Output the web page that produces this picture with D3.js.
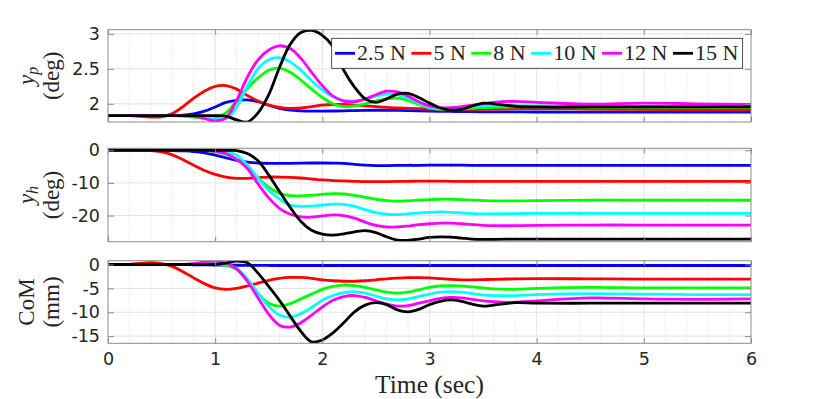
<!DOCTYPE html>
<html>
<head>
<meta charset="utf-8">
<script src="https://cdn.jsdelivr.net/npm/d3@7"></script>
<style>
  body { margin: 0; background: #fff; }
  text { fill: #262626; }
</style>
</head>
<body>
<script>
// sample times (sec)
const time = [0, 0.2, 0.4, 0.5, 0.6, 0.7, 0.8, 0.9, 1.0, 1.1, 1.2, 1.3, 1.4, 1.5, 1.6, 1.7, 1.8, 1.9, 2.0, 2.1,
    2.2, 2.3, 2.4, 2.5, 2.6, 2.7, 2.8, 2.9, 3.0, 3.1, 3.2, 3.3, 3.4, 3.5, 3.6, 3.8, 4.0, 4.5, 5.0, 5.5, 6.0];

const forceLabels = ["2.5 N", "5 N", "8 N", "10 N", "12 N", "15 N"];
const lineColors = ["#0000ff", "#ff0000", "#00ff00", "#00ffff", "#ff00ff", "#000000"];

const xTicks = [0, 1, 2, 3, 4, 5, 6];
const ypTicks = [2, 2.5, 3];
const yhTicks = [-20, -10, 0];
const comTicks = [-15, -10, -5, 0];

// y_p (deg)
const ypBlue = [1.83,1.83,1.83,1.83,1.832,1.838,1.855,1.895,1.955,2.02, 2.05,2.055,2.03,1.98,1.935,1.91,1.90,1.895,1.895,1.897,
    1.90,1.903,1.906,1.908,1.908,1.906,1.903,1.90,1.897,1.894, 1.891,1.889,1.887,1.886,1.885,1.884,1.883,1.882,1.881,1.88, 1.88];
const ypRed = [1.83,1.83,1.81,1.815,1.86,1.96,2.08,2.18,2.25,2.26, 2.21,2.12,2.04,1.98,1.95,1.935,1.94,1.96,1.98,1.99,
    1.99,1.98,1.97,1.96,1.95,1.94,1.935,1.93,1.925,1.922, 1.92,1.92,1.92,1.922,1.925,1.93,1.93,1.925,1.92,1.915, 1.915];
const ypGreen = [1.83,1.83,1.83,1.83,1.83,1.825,1.81,1.79,1.79,1.87, 2.04,2.22,2.37,2.48,2.51,2.45,2.34,2.21,2.09,2.00,
    1.96,1.97,2.00,2.04,2.07,2.08,2.05,1.99,1.94,1.92, 1.92,1.925,1.935,1.945,1.95,1.955,1.955,1.95,1.95,1.95, 1.95];
const ypCyan = [1.83,1.83,1.83,1.83,1.83,1.83,1.825,1.81,1.785,1.79, 1.95,2.25,2.50,2.63,2.66,2.60,2.48,2.33,2.20,2.10,
    2.05,2.04,2.07,2.11,2.14,2.13,2.08,2.01,1.95,1.93, 1.93,1.945,1.96,1.975,1.98,1.975,1.97,1.965,1.965,1.96, 1.96];
const ypMagenta = [1.83,1.83,1.83,1.83,1.83,1.83,1.82,1.79,1.755,1.80, 2.05,2.38,2.63,2.77,2.83,2.79,2.65,2.45,2.26,2.11,
    2.04,2.03,2.07,2.13,2.18,2.17,2.11,2.03,1.97,1.945, 1.945,1.96,1.98,2.00,2.02,2.035,2.02,1.995,2.01,2.00, 1.99];
const ypBlack = [1.83,1.83,1.83,1.83,1.83,1.83,1.83,1.83,1.83,1.825, 1.77,1.74,1.87,2.13,2.52,2.85,3.02,3.05,2.98,2.82,
    2.48,2.24,2.07,2.02,2.07,2.14,2.15,2.09,2.01,1.94, 1.91,1.92,1.97,2.01,2.00,1.965,1.955,1.955,1.955,1.955, 1.955];

// y_h (deg)
const yhBlue = [0,0,0,-0.02,-0.08,-0.2,-0.4,-0.8,-1.5,-2.3, -3.1,-3.6,-3.9,-4.0,-4.0,-4.0,-3.95,-3.9,-3.9,-3.95,
    -4.0,-4.3,-4.55,-4.7,-4.7,-4.65,-4.6,-4.6,-4.55,-4.55, -4.55,-4.55,-4.6,-4.6,-4.6,-4.6,-4.6,-4.6,-4.6,-4.6, -4.6];
const yhRed = [0,0,-0.1,-0.5,-1.4,-2.9,-4.6,-6.2,-7.4,-8.2, -8.6,-8.6,-8.4,-8.2,-8.2,-8.3,-8.5,-8.8,-9.1,-9.3,
    -9.4,-9.5,-9.6,-9.6,-9.6,-9.55,-9.5,-9.45,-9.45,-9.45, -9.5,-9.5,-9.5,-9.5,-9.5,-9.5,-9.5,-9.5,-9.5,-9.5, -9.5];
const yhGreen = [0,0,0,0,0,0,0,-0.1,-0.4,-1.2, -2.8,-5.2,-8.5,-11.3,-13.2,-13.9,-14.0,-13.8,-13.5,-13.3,
    -13.4,-13.8,-14.4,-15.0,-15.4,-15.6,-15.5,-15.3,-15.1,-15.0, -15.0,-15.1,-15.3,-15.4,-15.5,-15.5,-15.4,-15.3,-15.3,-15.3, -15.3];
const yhCyan = [0,0,0,0,0,0,0,0,-0.1,-0.5, -1.5,-4.5,-8.5,-12.3,-14.9,-16.8,-17.2,-17.1,-16.8,-16.5,
    -16.6,-17.2,-18.2,-19.1,-19.6,-19.7,-19.5,-19.2,-19.0,-18.9, -19.0,-19.2,-19.4,-19.5,-19.5,-19.4,-19.3,-19.3,-19.3,-19.3, -19.3];
const yhMagenta = [0,0,0,0,0,0,0,-0.1,-0.3,-1.0, -2.8,-5.6,-10.3,-14.6,-17.8,-19.6,-20.4,-20.5,-20.1,-19.8,
    -20.0,-20.8,-22.0,-23.0,-23.5,-23.5,-23.2,-22.8,-22.5,-22.3, -22.3,-22.5,-22.8,-23.0,-23.1,-23.1,-23.0,-22.9,-22.9,-22.9, -22.9];
const yhBlack = [0,0,0,0,0,0,0,0,0,0, -0.1,-1.0,-3.2,-7.6,-12.6,-17.5,-21.8,-24.5,-25.7,-26.0,
    -25.6,-25.0,-24.6,-25.2,-26.5,-27.5,-27.6,-27.2,-26.7,-26.5, -26.6,-26.9,-27.2,-27.3,-27.3,-27.2,-27.2,-27.2,-27.2,-27.2, -27.2];

// CoM (mm)
const comBlue = [0,0,0,0,0,-0.02,-0.05,-0.08,-0.1,-0.12, -0.15,-0.17,-0.18,-0.2,-0.2,-0.2,-0.2,-0.2,-0.2,-0.2,
    -0.2,-0.2,-0.2,-0.2,-0.2,-0.2,-0.2,-0.2,-0.2,-0.2, -0.2,-0.2,-0.2,-0.2,-0.2,-0.2,-0.2,-0.2,-0.2,-0.2, -0.2];
const comRed = [0,0.05,0.4,0.2,-0.4,-1.5,-2.8,-4.0,-4.9,-5.2, -5.0,-4.5,-3.9,-3.3,-2.9,-2.7,-2.7,-2.9,-3.2,-3.4,
    -3.5,-3.5,-3.4,-3.2,-3.0,-2.85,-2.75,-2.75,-2.8,-2.95, -3.1,-3.2,-3.2,-3.15,-3.1,-3.0,-2.95,-3.0,-3.05,-3.05, -3.05];
const comGreen = [0,0,0,0,0,0,0.1,0.2,0.15,-0.2, -1.0,-3.2,-6.1,-8.1,-8.7,-8.2,-7.2,-6.2,-5.2,-4.6,
    -4.3,-4.4,-4.8,-5.3,-5.8,-6.0,-5.8,-5.3,-4.8,-4.5, -4.4,-4.5,-4.7,-4.9,-5.1,-5.2,-5.0,-4.8,-4.9,-4.9, -4.9];
const comCyan = [0,0,0,0,0,0,0,0.15,0.3,0.1, -0.8,-3.0,-6.0,-8.8,-10.6,-11.0,-10.3,-9.0,-7.5,-6.5,
    -5.9,-5.7,-6.0,-6.6,-7.2,-7.4,-7.2,-6.7,-6.2,-5.8, -5.7,-5.8,-6.1,-6.4,-6.5,-6.5,-6.3,-6.1,-6.2,-6.3, -6.3];
const comMagenta = [0,0,0,0,0,0,0.2,0.55,0.7,0.3, -0.9,-3.5,-7.0,-10.4,-12.7,-13.1,-12.2,-10.6,-8.9,-7.5,
    -6.7,-6.5,-6.9,-7.6,-8.3,-8.7,-8.6,-8.1,-7.6,-7.1, -6.9,-7.0,-7.3,-7.6,-7.8,-7.9,-7.6,-7.0,-7.2,-7.3, -7.2];
const comBlack = [0,0,0,0,0,0,0,0,0.05,0.3, 0.7,0.35,-1.8,-4.6,-7.5,-10.8,-14.0,-16.2,-15.8,-14.3,
    -12.2,-9.9,-8.5,-8.0,-8.4,-9.5,-9.9,-9.4,-8.4,-7.7, -7.4,-7.7,-8.3,-8.7,-8.5,-8.0,-8.1,-8.1,-8.1,-8.1, -8.1];

const width = 830, height = 399;
const left = 108, right = 751;
const frameColor = "#8c8c8c";
const tickFont = "'DejaVu Sans', sans-serif";
const labelFont = "'Liberation Serif', 'Times New Roman', serif";

let panels = [
    {top: 29.7, bottom: 122, domain: [1.74, 3.06], ticks: ypTicks,
     series: [ypBlue, ypRed, ypGreen, ypCyan, ypMagenta, ypBlack], sym: "y", sub: "p", unit: "(deg)"},
    {top: 148.3, bottom: 241.7, domain: [-28, 0.6], ticks: yhTicks,
     series: [yhBlue, yhRed, yhGreen, yhCyan, yhMagenta, yhBlack], sym: "y", sub: "h", unit: "(deg)"},
    {top: 260.7, bottom: 343.3, domain: [-16.5, 0.8], ticks: comTicks,
     series: [comBlue, comRed, comGreen, comCyan, comMagenta, comBlack], plain: "CoM", unit: "(mm)"}
];

let svg = d3.select("body").append("svg")
    .attr("width", width)
    .attr("height", height);

let x = d3.scaleLinear().domain([0, 6]).range([left, right]);
let minorX = d3.range(0, 6.001, 0.2).filter(v => Math.abs(v - Math.round(v)) > 1e-6);

panels.forEach((p, k) => {
    let y = d3.scaleLinear().domain(p.domain).range([p.bottom, p.top]);
    let g = svg.append("g");

    g.append("clipPath").attr("id", "clip" + k)
        .append("rect")
        .attr("x", left).attr("y", p.top)
        .attr("width", right - left).attr("height", p.bottom - p.top);

    // minor grid (dotted)
    g.selectAll(".minor").data(minorX).enter().append("line")
        .attr("x1", d => x(d)).attr("x2", d => x(d))
        .attr("y1", p.top).attr("y2", p.bottom)
        .attr("stroke", "#cfcfcf").attr("stroke-width", 0.8)
        .attr("stroke-dasharray", "1,2");

    // major grid
    g.selectAll(".vgrid").data(xTicks.slice(1, -1)).enter().append("line")
        .attr("x1", d => x(d)).attr("x2", d => x(d))
        .attr("y1", p.top).attr("y2", p.bottom)
        .attr("stroke", "#e3e3e3").attr("stroke-width", 1);
    g.selectAll(".hgrid").data(p.ticks).enter().append("line")
        .attr("x1", left).attr("x2", right)
        .attr("y1", d => y(d)).attr("y2", d => y(d))
        .attr("stroke", "#e3e3e3").attr("stroke-width", 1);

    // curves
    let line = d3.line()
        .x((d, i) => x(time[i]))
        .y(d => y(d))
        .curve(d3.curveCatmullRom.alpha(0.5));
    g.append("g").attr("clip-path", "url(#clip" + k + ")")
        .selectAll("path").data(p.series).enter().append("path")
        .attr("d", line)
        .attr("fill", "none")
        .attr("stroke", (d, i) => lineColors[i])
        .attr("stroke-width", 2.8)
        .attr("stroke-linejoin", "round");

    // axes
    let yAxis = g.append("g").attr("transform", `translate(${left},0)`)
        .call(d3.axisLeft(y).tickValues(p.ticks).tickSize(-6).tickPadding(8).tickFormat(d => String(d)));
    let yAxisR = g.append("g").attr("transform", `translate(${right},0)`)
        .call(d3.axisRight(y).tickValues(p.ticks).tickSize(-6).tickFormat(""));
    let xAxisT = g.append("g").attr("transform", `translate(0,${p.top})`)
        .call(d3.axisTop(x).tickValues(xTicks).tickSize(-5).tickFormat(""));
    let xAxisB = g.append("g").attr("transform", `translate(0,${p.bottom})`)
        .call(d3.axisBottom(x).tickValues(xTicks).tickSize(-5).tickPadding(12)
            .tickFormat(k === 2 ? (d => String(d)) : ""));

    [yAxis, yAxisR, xAxisT, xAxisB].forEach(a => {
        a.select(".domain").remove();
        a.selectAll("line").attr("stroke", frameColor);
        a.selectAll("text").attr("font-family", tickFont).attr("font-size", 17.5)
            .attr("fill", "#262626");
    });
    xAxisB.selectAll("text").attr("dy", "0.71em").attr("y", 9);

    g.append("rect")
        .attr("x", left).attr("y", p.top)
        .attr("width", right - left).attr("height", p.bottom - p.top)
        .attr("fill", "none").attr("stroke", frameColor).attr("stroke-width", 1);

    // y label: two rotated lines
    let cy = (p.top + p.bottom) / 2;
    let lab1 = svg.append("text")
        .attr("transform", `translate(33.5,${cy}) rotate(-90)`)
        .attr("text-anchor", "middle")
        .attr("font-family", labelFont).attr("font-size", 23);
    if (p.plain) {
        lab1.text(p.plain);
    } else {
        lab1.append("tspan").attr("font-style", "italic").text(p.sym);
        lab1.append("tspan").attr("font-style", "italic").attr("font-size", 16)
            .attr("dy", 4).text(p.sub);
    }
    svg.append("text")
        .attr("transform", `translate(58.5,${cy}) rotate(-90)`)
        .attr("text-anchor", "middle")
        .attr("font-family", labelFont).attr("font-size", 23)
        .text(p.unit);
});

svg.append("text")
    .attr("x", (left + right) / 2).attr("y", 393)
    .attr("text-anchor", "middle")
    .attr("font-family", labelFont).attr("font-size", 25.5)
    .text("Time (sec)");

// legend
let legend = svg.append("g");
let box = legend.append("rect")
    .attr("x", 331.7).attr("y", 38.3)
    .attr("height", 30)
    .attr("fill", "#fff").attr("stroke", "#262626").attr("stroke-width", 0.8);
let cursor = 335;
forceLabels.forEach((name, i) => {
    legend.append("line")
        .attr("x1", cursor).attr("x2", cursor + 20)
        .attr("y1", 53.3).attr("y2", 53.3)
        .attr("stroke", lineColors[i]).attr("stroke-width", 2.8);
    let t = legend.append("text")
        .attr("x", cursor + 22).attr("y", 59.5)
        .attr("font-family", labelFont).attr("font-size", 22)
        .text(name);
    cursor += 22 + t.node().getComputedTextLength() + 5.5;
});
box.attr("width", cursor - 331.7 - 1.2);
</script>
</body>
</html>
